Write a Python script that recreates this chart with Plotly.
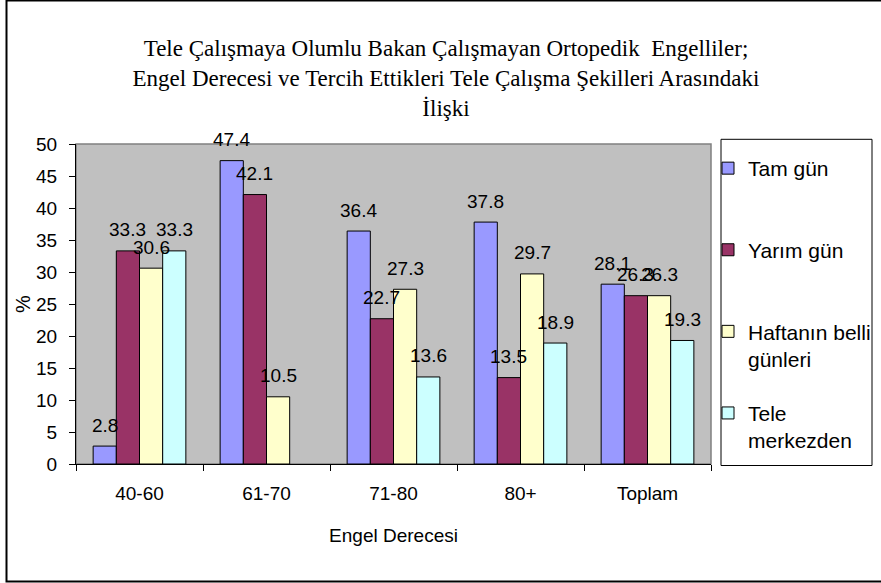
import plotly.graph_objects as go

categories = ["40-60", "61-70", "71-80", "80+", "Toplam"]
series_names = ["Tam gün", "Yarım gün", "Haftanın belli<br>günleri", "Tele<br>merkezden"]
tam_gun = [2.8, 47.4, 36.4, 37.8, 28.1]
yarim_gun = [33.3, 42.1, 22.7, 13.5, 26.3]
haftanin_belli = [30.6, 10.5, 27.3, 29.7, 26.3]
tele_merkez = [33.3, None, 13.6, 18.9, 19.3]
colors = ["#9999FF", "#993366", "#FFFFCC", "#CCFFFF"]
y_ticks = [0, 5, 10, 15, 20, 25, 30, 35, 40, 45, 50]

title_text = ("Tele Çalışmaya Olumlu Bakan Çalışmayan Ortopedik  Engelliler;<br>"
              "Engel Derecesi ve Tercih Ettikleri Tele Çalışma Şekilleri Arasındaki<br>"
              "İlişki")

all_series = [tam_gun, yarim_gun, haftanin_belli, tele_merkez]

W, H = 881, 583
ML, MR, MT, MB = 76, 170, 144, 119
PW, PH = W - ML - MR, H - MT - MB
BARGAP = 0.27
SANS = "Arial, Liberation Sans, sans-serif"


def px_x(px):
    return (px - ML) / PW


def px_y(py):
    return (H - MB - py) / PH


fig = go.Figure()
for i, (name, vals) in enumerate(zip(series_names, all_series)):
    lines = name.count("<br>") + 1
    legend_name = name if lines == 2 else name + "<br>\u00a0"
    fig.add_trace(go.Bar(
        x=categories, y=vals, name=legend_name,
        marker=dict(color=colors[i], line=dict(color="black", width=1)),
        legendgroup=f"g{i}",
        hoverinfo="skip",
    ))

# data labels above bars (Excel style)
n = len(all_series)
bw = (1 - BARGAP) / n
annotations = []
for i, vals in enumerate(all_series):
    off = -(1 - BARGAP) / 2 + (i + 0.5) * bw
    for j, v in enumerate(vals):
        if v is None:
            continue
        annotations.append(dict(
            x=j + off, y=v, xref="x", yref="y", text=f"{v}",
            showarrow=False, yanchor="middle", yshift=21,
            font=dict(family=SANS, size=19, color="black"),
        ))

shapes = [
    # plot area frame (gray)
    dict(type="rect", xref="paper", yref="paper", x0=0, x1=1, y0=0, y1=1,
         line=dict(color="#808080", width=1.5), fillcolor="#C0C0C0", layer="below"),
    # legend frame
    dict(type="rect", xref="paper", yref="paper",
         x0=px_x(721), x1=px_x(872), y0=px_y(465.5), y1=px_y(139.3),
         line=dict(color="black", width=1), fillcolor="rgba(0,0,0,0)"),
    # outer chart border
    dict(type="rect", xref="paper", yref="paper",
         x0=px_x(6.5), x1=px_x(900), y0=px_y(581.5), y1=px_y(0.5),
         line=dict(color="black", width=2), fillcolor="rgba(0,0,0,0)"),
]

fig.update_layout(
    width=W, height=H,
    margin=dict(l=ML, r=MR, t=MT, b=MB, autoexpand=False),
    paper_bgcolor="white", plot_bgcolor="#C0C0C0",
    barmode="group", bargap=BARGAP, bargroupgap=0,
    font=dict(family=SANS, size=19, color="black"),
    title=dict(text=title_text, x=446 / W, xanchor="center", xref="container",
               y=1 - 56 / H, yanchor="top", yref="container",
               font=dict(family="Liberation Serif, Times New Roman, serif", size=23, color="black")),
    showlegend=True,
    legend=dict(x=px_x(708), y=px_y(148), xanchor="left", yanchor="top",
                xref="paper", yref="paper",
                bgcolor="rgba(0,0,0,0)", borderwidth=0,
                font=dict(family=SANS, size=21, color="black"),
                valign="top", tracegroupgap=24, traceorder="grouped"),
    xaxis=dict(
        showline=True, linecolor="black", linewidth=1,
        ticks="outside", tickson="boundaries", ticklen=6, tickcolor="black",
        showgrid=False, ticklabelstandoff=12,
        title=dict(text="Engel Derecesi", standoff=25, font=dict(size=19)),
        tickfont=dict(size=19),
    ),
    yaxis=dict(
        range=[0, 50], tickvals=y_ticks, ticktext=[str(t) for t in y_ticks],
        showline=True, linecolor="black", linewidth=1,
        ticks="outside", ticklen=6, tickcolor="black",
        showgrid=False, zeroline=False, ticklabelstandoff=8,
        title=dict(text="%", standoff=0, font=dict(size=20)),
        tickfont=dict(size=19),
    ),
    annotations=annotations,
    shapes=shapes,
)

fig.write_html(
    "out.html",
    config={"displayModeBar": False},
    post_script="document.body.style.margin='0px';document.body.style.padding='0px';",
)
